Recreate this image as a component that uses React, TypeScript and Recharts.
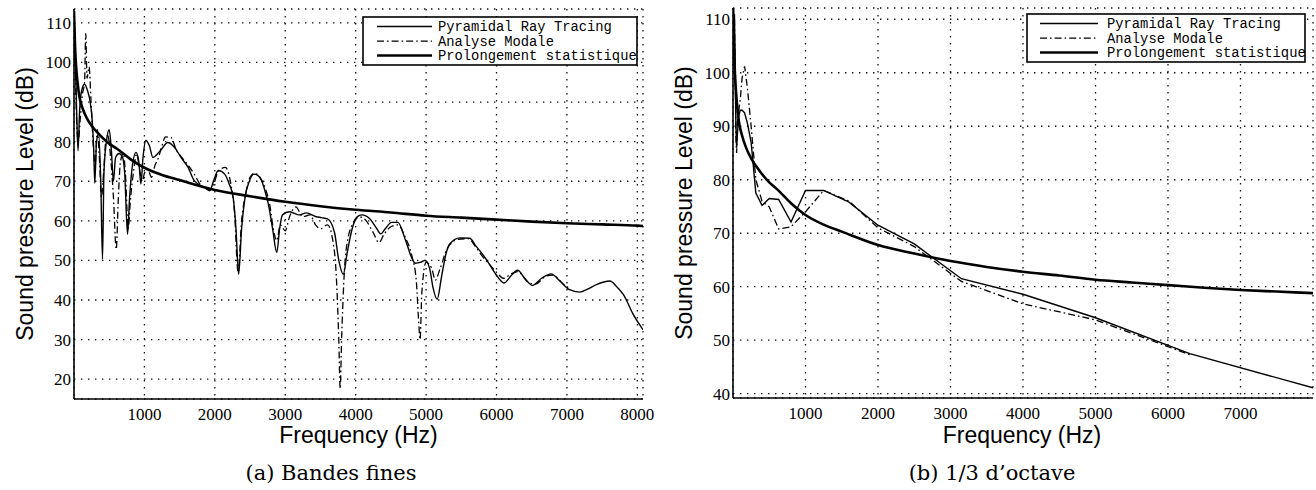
import { LineChart, Line, XAxis, YAxis, CartesianGrid } from "recharts";

// ---- statistical extension (same curve on both panels)
const STAT_FREQ = [0, 15, 30, 50, 80, 120, 180, 250, 370, 500, 610, 800, 1000, 1250, 1500, 2000, 2500, 3000, 3500, 4000, 4500, 5000, 5500, 6000, 6500, 7000, 7500, 8000, 8080];
const STAT_LEVEL = [113, 104, 99, 95, 91, 88.5, 86, 84, 81.6, 79.5, 78.2, 75.6, 73.4, 71.6, 70.3, 67.8, 66.2, 64.8, 63.7, 62.8, 62.1, 61.3, 60.8, 60.3, 59.8, 59.4, 59.1, 58.8, 58.7];

// ---- (a) narrow bands
const FINE_PRT_FREQ = [0, 20, 40, 57, 80, 110, 150, 190, 230, 260, 280, 295, 320, 350, 380, 405, 425, 460, 500, 530, 560, 590, 640, 690, 720, 760, 790, 830, 880, 920, 950, 980, 1020, 1070, 1120, 1190, 1240, 1330, 1430, 1520, 1620, 1710, 1860, 1930, 1980, 2050, 2140, 2200, 2260, 2300, 2338, 2380, 2430, 2490, 2550, 2610, 2665, 2720, 2760, 2820, 2880, 2920, 2960, 3060, 3200, 3300, 3430, 3514, 3600, 3700, 3760, 3824, 3880, 3950, 4020, 4086, 4200, 4300, 4357, 4420, 4510, 4600, 4700, 4800, 4843, 4920, 4985, 5050, 5100, 5157, 5220, 5280, 5338, 5480, 5620, 5700, 5800, 5900, 5990, 6110, 6200, 6300, 6400, 6510, 6640, 6775, 6900, 7036, 7181, 7300, 7418, 7610, 7700, 7800, 7943, 8080];
const FINE_PRT_LEVEL = [113, 100, 86, 77.7, 88, 93, 94.5, 93, 90, 85, 78, 69.5, 80, 82, 70, 50.3, 72, 80, 83, 78, 70, 76, 77, 76, 72, 56.6, 66, 74, 77.3, 75, 69.3, 76, 80.3, 79, 76, 77, 78, 79.8, 78.5, 76, 73.5, 70.1, 68.4, 67.6, 70, 72.7, 71.8, 69.5, 65.9, 58, 46.5, 58, 66, 70, 71.8, 71.5, 70.1, 67, 64.2, 58, 52, 58, 61.5, 62.3, 61.5, 62, 61.1, 60.8, 60.5, 57, 50, 46.5, 52, 58, 61, 61.5, 60.5, 58, 56.7, 58, 59.6, 59.6, 55.5, 50.5, 49.3, 49.5, 50, 48, 43, 40.2, 46, 51.5, 54.2, 55.7, 55.6, 53.8, 51.6, 49, 46.5, 44.3, 46, 47.5, 45.5, 43.7, 45.5, 46.6, 44.8, 42.6, 42, 42.8, 43.9, 44.8, 43.5, 41.4, 36.3, 32.5];

const FINE_MODAL_FREQ = [0, 20, 40, 60, 90, 120, 150, 167, 185, 214, 240, 270, 300, 330, 360, 390, 420, 450, 480, 520, 560, 600, 630, 660, 700, 730, 770, 800, 850, 890, 930, 970, 1000, 1050, 1100, 1150, 1200, 1250, 1300, 1380, 1450, 1530, 1600, 1700, 1800, 1900, 1950, 2050, 2150, 2220, 2280, 2330, 2380, 2440, 2500, 2560, 2640, 2720, 2780, 2830, 2880, 2930, 3000, 3060, 3150, 3250, 3350, 3430, 3500, 3600, 3700, 3760, 3780, 3800, 3860, 3950, 4050, 4150, 4250, 4330, 4400, 4500, 4600, 4700, 4800, 4860, 4900, 4914, 4940, 5000, 5080, 5130, 5200, 5300, 5450, 5600, 5700, 5800, 5900, 6000, 6100, 6200, 6300, 6450, 6550, 6700, 6800, 6950, 7050];
const FINE_MODAL_LEVEL = [112, 97, 84, 80, 86, 92, 95, 107.3, 96, 98.9, 91, 80, 74, 83, 76, 66, 72, 80, 81.5, 76, 66, 52.8, 66, 75, 77, 72, 58, 65, 73, 77, 73, 70, 72, 73, 71, 74, 76, 79, 81.2, 81, 78, 76, 74.5, 72, 69, 68, 68, 72.5, 73.5, 70, 62, 47, 60, 67, 71, 72, 71, 68, 64, 58, 55, 59, 57.5, 61, 63.5, 61, 61.5, 59, 58, 59, 52, 30, 17.6, 30, 52, 59, 61, 60, 57, 54.5, 56.5, 58.5, 59, 56, 51, 45, 33, 30, 42, 49.5, 48, 45, 48, 53, 55.3, 55.5, 53.5, 51, 49, 47, 45.5, 46.5, 47.2, 44.5, 44, 46, 46.3, 44, 42.8];

// ---- (b) third octave bands
const OCT_FREQ = [20, 31.5, 40, 50, 63, 80, 100, 125, 160, 200, 250, 315, 400, 500, 630, 800, 1000, 1250, 1600, 2000, 2500, 3150, 4000, 5000, 6300, 8000];
const OCT_PRT = [111, 100, 90, 86, 89, 92, 93, 93, 92.5, 90.5, 87, 77.5, 75.2, 76.5, 76.3, 72.1, 78, 78, 75.8, 71.5, 68, 61.5, 58.6, 54.2, 47.5, 41.1];
const OCT_MODAL = [110, 98, 88, 85, 91, 93, 95, 99, 101.2, 97, 90, 80, 76, 74.9, 70.8, 71.2, 74, 78, 76, 71, 67.5, 61, 56.8, 53.8, 47.3];

const FREQ_TICKS_A = [1000, 2000, 3000, 4000, 5000, 6000, 7000, 8000];
const LEVEL_TICKS_A = [20, 30, 40, 50, 60, 70, 80, 90, 100, 110];
const FREQ_TICKS_B = [1000, 2000, 3000, 4000, 5000, 6000, 7000];
const LEVEL_TICKS_B = [40, 50, 60, 70, 80, 90, 100, 110];

const LEGEND = ["Pyramidal Ray Tracing", "Analyse Modale", "Prolongement statistique"];

const pairs = (fs: number[], vs: number[]) => vs.map((v, i) => ({ f: fs[i], v }));

const tickStyle = { fill: "#000", fontSize: 17, fontFamily: "'Liberation Serif', serif" };
const GRID = { stroke: "#111", strokeWidth: 1.3, strokeDasharray: "1.4 5.6" };
const MODAL_DASH = "7 3 1.6 3";

function Panel({
  left, width, top, xAxisH, yAxisW, right, xDomain, yDomain, xTicks, yTicks, prt, modal, stat, smooth,
}: {
  left: number; width: number; top: number; xAxisH: number; yAxisW: number; right: number;
  xDomain: [number, number]; yDomain: [number, number]; xTicks: number[]; yTicks: number[];
  prt: { f: number; v: number }[]; modal: { f: number; v: number }[]; stat: { f: number; v: number }[];
  smooth: boolean;
}) {
  const t = smooth ? "monotone" : "linear";
  return (
    <div style={{ position: "absolute", left, top: 0 }}>
      <LineChart width={width} height={440} margin={{ top, right, left: 0, bottom: 0 }}>
        <CartesianGrid {...GRID} />
        <XAxis
          dataKey="f" type="number" domain={xDomain} ticks={xTicks} height={xAxisH}
          allowDataOverflow tick={tickStyle} tickLine={false} tickSize={0} tickMargin={9}
          axisLine={{ stroke: "#000", strokeWidth: 1.6 }}
        />
        <YAxis
          type="number" domain={yDomain} ticks={yTicks} width={yAxisW}
          allowDataOverflow tick={tickStyle} tickLine={false} tickSize={0} tickMargin={3}
          axisLine={{ stroke: "#000", strokeWidth: 1.6 }}
        />
        <Line data={stat} dataKey="v" type="monotone" stroke="#000" strokeWidth={2.6} dot={false} isAnimationActive={false} />
        <Line data={modal} dataKey="v" type={t} stroke="#000" strokeWidth={1.3} strokeDasharray={MODAL_DASH} dot={false} isAnimationActive={false} />
        <Line data={prt} dataKey="v" type={t} stroke="#000" strokeWidth={1.4} dot={false} isAnimationActive={false} />
      </LineChart>
    </div>
  );
}

function LegendBox({ x, y, w, lineX1, lineX2, textX }: { x: number; y: number; w: number; lineX1: number; lineX2: number; textX: number }) {
  const rows = [14, 28.6, 43];
  return (
    <g>
      <rect x={x} y={y} width={w} height={48} fill="#fff" stroke="#000" strokeWidth={1.6} />
      {LEGEND.map((name, i) => (
        <g key={name}>
          <line
            x1={lineX1} x2={lineX2} y1={y + rows[i] - 4.5} y2={y + rows[i] - 4.5} stroke="#000"
            strokeWidth={i === 2 ? 2.6 : 1.3} strokeDasharray={i === 1 ? MODAL_DASH : undefined}
          />
          <text x={textX} y={y + rows[i]} fontFamily="'Liberation Mono', monospace" fontSize={13.8} fill="#000">
            {name}
          </text>
        </g>
      ))}
    </g>
  );
}

export default function App() {
  const statA = pairs(STAT_FREQ, STAT_LEVEL);
  const statB = statA.filter(p => p.f <= 8000);
  const sans = "'Liberation Sans', Arial, sans-serif";
  const serif = "'DejaVu Serif', serif";
  return (
    <div style={{ position: "relative", width: 1316, height: 490, background: "#fff", overflow: "hidden" }}>
      <style>{"body{margin:0}"}</style>
      <Panel
        left={0} width={660} top={9} xAxisH={41} yAxisW={74} right={17}
        xDomain={[0, 8080]} yDomain={[15, 113.5]} xTicks={FREQ_TICKS_A} yTicks={LEVEL_TICKS_A}
        prt={pairs(FINE_PRT_FREQ, FINE_PRT_LEVEL)} modal={pairs(FINE_MODAL_FREQ, FINE_MODAL_LEVEL)} stat={statA} smooth
      />
      <Panel
        left={660} width={656} top={8} xAxisH={42} yAxisW={73} right={3}
        xDomain={[0, 8000]} yDomain={[39.2, 112.1]} xTicks={FREQ_TICKS_B} yTicks={LEVEL_TICKS_B}
        prt={pairs(OCT_FREQ, OCT_PRT)} modal={pairs(OCT_FREQ, OCT_MODAL)} stat={statB} smooth={false}
      />
      <svg width={1316} height={490} style={{ position: "absolute", left: 0, top: 0, pointerEvents: "none" }}>
        <LegendBox x={363} y={17} w={274} lineX1={377} lineX2={432} textX={438} />
        <LegendBox x={1027} y={14} w={278} lineX1={1040} lineX2={1098} textX={1107} />
        <text x={25} y={204} transform="rotate(-90 25 204)" textAnchor="middle" dominantBaseline="central" fontFamily={sans} fontSize={23}>
          Sound pressure Level (dB)
        </text>
        <text x={684} y={203} transform="rotate(-90 684 203)" textAnchor="middle" dominantBaseline="central" fontFamily={sans} fontSize={23}>
          Sound pressure Level (dB)
        </text>
        <text x={358.5} y={443} textAnchor="middle" fontFamily={sans} fontSize={23}>Frequency (Hz)</text>
        <text x={1022} y={443} textAnchor="middle" fontFamily={sans} fontSize={23}>Frequency (Hz)</text>
        <text x={331} y={480} textAnchor="middle" fontFamily={serif} fontSize={21}>(a) Bandes fines</text>
        <text x={992} y={480} textAnchor="middle" fontFamily={serif} fontSize={21}>(b) 1/3 d’octave</text>
      </svg>
    </div>
  );
}
